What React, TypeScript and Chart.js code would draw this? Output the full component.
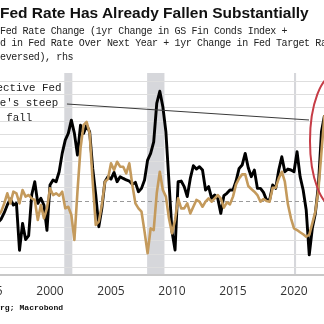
import React, { useEffect, useRef } from "react";
import { Chart, registerables } from "chart.js";

Chart.register(...registerables);

// ---- data (quarterly samples) ----
const START_YEAR = 1995.75;
const STEP_YEARS = 0.25;

const fedRateBlack = [
  -1.6,
  -1.35, -0.88, -0.3, 0.15, -0.3, -0.18, -3.7, -1.68, -2.9, -2.6, 0.45, 1.45, -0.18, 0.2, -0.3, -2.2, 1.2, 1.58,
  1.45, 2.2, 3.58, 4.58, 5.08, 6.08, 5.08, 3.45, 5.7, 5.08, 5.7, 5.2, 2.45, 0.45, -1.93, -0.55, 1.45, 1.83,
  1.65, 2.15, 1.45, 1.83, 1.7, 1.58, 1.5, 1.25, 1.4, 0.7, 0.95, 1.58, 3.08, 3.58, 4.45, 7.33, 8.25, 7.08,
  5.2, 1.45, -2.3, -3.68, 1.45, 1.5, 1.08, 0.33, 1.7, 2.65, 2.4, 2.58, 2.33, 0.83, 1.08, 0.2, 0.45, 0.2,
  -0.93, 0.4, 0.58, 0.83, 0.83, 1.5, 2.45, 2.7, 3.58, 2.5, 1.83, 2.33, 0.95, 0.95, 0.65, 0.08, 0.08, 1.2,
  0.95, 2.33, 3.33, 2.2, 2.4, 2.33, 2.2, 3.7, 1.83, 0.83, -0.68, -4.05, -2.05, -0.93, 1.2, 5.2, 6.45,
];

const fedRateTan = [
  -1.1,
  -0.8, -0.18, 0.58, -0.18, 0.7, 0.58, -0.18, 0.83, 0.33, 0.45, 0.2, 0.08, -1.43, -0.3, -1.3, -0.55, 0.95, 0.45,
  0.58, 0.4, 0.7, -0.55, -0.43, -1.05, -2.93, 0.7, 3.95, 5.7, 5.95, 5.08, 1.45, -1.8, -1.55, -0.3, 1.45, 1.65,
  2.83, 2.33, 2.95, 2.58, 2.58, 2.08, 2.83, 1.2, -0.18, -0.55, -0.8, -2.3, -3.93, -2.05, -2.18, 0.58, 2.2, 0.83,
  0.33, -1.3, -2.43, -1.43, 0.2, -0.55, -0.55, -0.18, -0.93, -0.43, 0.08, -0.05, -0.43, -0.05, 0.2, -0.05, 0.2, 0.45,
  0.2, -0.5, -0.1, -0.25, 0.33, 1.25, 1.7, 2.0, 2.0, 1.13, 0.9, 0.7, 0.45, -0.05, 0.15, 0.0, -0.05, 1.0,
  1.0, 1.7, 2.2, 1.45, -0.25, -1.3, -2.05, -2.18, -2.35, -2.5, -2.68, -2.55, -1.68, -0.8, 0.83, 3.7, 6.45,
];

const xTickYears = [1995, 2000, 2005, 2010, 2015, 2020, 2025];
const yGridValues = [-5, -4, -3, -2, -1, 0, 1, 2, 3, 4, 5, 6, 7, 8, 9];
const recessionStarts = [2001.17, 2007.96, 2020.0];
const recessionEnds = [2001.83, 2009.38, 2020.17];

const X_MIN = 1991.967;
const X_MAX = 2026.393;
const Y_MIN = -5.56;
const Y_MAX = 9.62;

// ---- text ----
const TITLE = "Fed Rate Has Already Fallen Substantially";
const SUB1 = "Fed Rate Change (1yr Change in GS Fin Conds Index +";
const SUB2 = "d in Fed Rate Over Next Year + 1yr Change in Fed Target Rate";
const SUB3 = "eversed), rhs";
const SOURCE = "rg; Macrobond";
const NOTE_LINES = ["Effective Fed", "Rate's steep", "fall"];

// annotation anchors (data units)
const NOTE_X = 1997.48;
const NOTE_YS = [8.45, 7.35, 6.2];
const ARROW_FROM = [2001.39, 7.29];
const ARROW_TO = [2021.23, 6.09];
const ELLIPSE_CENTER = [2023.36, 4.51];
const ELLIPSE_RADII = [2.05, 4.96];

const overlayPlugin = {
  id: "overlay",
  beforeDraw(chart: any) {
    const { ctx, chartArea: a, scales } = chart;
    const x = scales.x;
    ctx.save();
    ctx.fillStyle = "#d6d7db";
    recessionStarts.forEach((s, i) => {
      const x0 = x.getPixelForValue(s);
      const x1 = x.getPixelForValue(recessionEnds[i]);
      ctx.fillRect(x0, a.top, Math.max(1.5, x1 - x0), a.bottom - a.top);
    });
    ctx.restore();
  },
  beforeDatasetsDraw(chart: any) {
    const { ctx, chartArea: a, scales } = chart;
    const y = scales.y;
    ctx.save();
    ctx.strokeStyle = "#9a9a9a";
    ctx.lineWidth = 1;
    ctx.setLineDash([4, 3]);
    const y0 = Math.round(y.getPixelForValue(0)) + 0.5;
    ctx.beginPath();
    ctx.moveTo(a.left, y0);
    ctx.lineTo(a.right, y0);
    ctx.stroke();
    ctx.restore();
  },
  afterDatasetsDraw(chart: any) {
    const { ctx, scales } = chart;
    const x = scales.x;
    const y = scales.y;
    ctx.save();
    ctx.strokeStyle = "#3a3a3a";
    ctx.lineWidth = 1;
    ctx.beginPath();
    ctx.moveTo(x.getPixelForValue(ARROW_FROM[0]), y.getPixelForValue(ARROW_FROM[1]));
    ctx.lineTo(x.getPixelForValue(ARROW_TO[0]), y.getPixelForValue(ARROW_TO[1]));
    ctx.stroke();
    const cx = x.getPixelForValue(ELLIPSE_CENTER[0]);
    const cy = y.getPixelForValue(ELLIPSE_CENTER[1]);
    const rx = Math.abs(x.getPixelForValue(ELLIPSE_CENTER[0] + ELLIPSE_RADII[0]) - cx);
    const ry = Math.abs(y.getPixelForValue(ELLIPSE_CENTER[1] + ELLIPSE_RADII[1]) - cy);
    ctx.strokeStyle = "#c63c46";
    ctx.lineWidth = 2;
    ctx.beginPath();
    ctx.ellipse(cx, cy, rx, ry, 0, 0, Math.PI * 2);
    ctx.stroke();
    ctx.fillStyle = "#222";
    ctx.font = '10.8px "Liberation Mono", monospace';
    ctx.textAlign = "center";
    ctx.textBaseline = "middle";
    NOTE_LINES.forEach((t, i) => {
      ctx.fillText(t, x.getPixelForValue(NOTE_X), y.getPixelForValue(NOTE_YS[i]));
    });
    ctx.restore();
  },
};

export default function App() {
  const ref = useRef<HTMLCanvasElement>(null);

  useEffect(() => {
    const canvas = ref.current;
    if (!canvas) return;
    const xs = fedRateBlack.map((_, i) => START_YEAR + STEP_YEARS * i);
    const chart = new Chart(canvas, {
      type: "line",
      data: {
        datasets: [
          {
            label: "Tan",
            data: fedRateTan.map((v, i) => ({ x: xs[i], y: v })),
            borderColor: "#c49a5c",
            borderWidth: 2.6,
            pointRadius: 0,
            tension: 0,
            borderJoinStyle: "round",
          },
          {
            label: "Black",
            data: fedRateBlack.map((v, i) => ({ x: xs[i], y: v })),
            borderColor: "#000000",
            borderWidth: 2.9,
            pointRadius: 0,
            tension: 0,
            borderJoinStyle: "round",
          },
        ],
      },
      options: {
        animation: false,
        responsive: false,
        devicePixelRatio: 1,
        layout: { padding: { top: 73, left: 0, right: 0, bottom: 0 } },
        plugins: { legend: { display: false }, tooltip: { enabled: false }, title: { display: false } },
        scales: {
          x: {
            type: "linear",
            min: X_MIN,
            max: X_MAX,
            grid: { display: false, drawTicks: false },
            border: { display: true, color: "#c8c8c8", width: 2 },
            ticks: {
              autoSkip: false,
              maxRotation: 0,
              padding: 9,
              color: "#333",
              font: { family: '"Open Sans", sans-serif', size: 12 },
              callback: (v: any) => String(v),
            },
            afterBuildTicks: (s: any) => {
              s.ticks = xTickYears.map((v) => ({ value: v }));
            },
            afterFit: (s: any) => {
              s.height = 49;
              s.paddingLeft = 0;
              s.paddingRight = 0;
            },
          },
          y: {
            type: "linear",
            min: Y_MIN,
            max: Y_MAX,
            ticks: { display: false },
            border: { display: false },
            grid: {
              drawTicks: false,
              lineWidth: 1,
              color: (c: any) => (c.tick && c.tick.value === 0 ? "rgba(0,0,0,0)" : "#dedede"),
            },
            afterBuildTicks: (s: any) => {
              s.ticks = yGridValues.map((v) => ({ value: v }));
            },
            afterFit: (s: any) => {
              s.width = 0;
            },
          },
        },
      },
      plugins: [overlayPlugin],
    } as any);
    return () => chart.destroy();
  }, []);

  const mono = '"Liberation Mono", monospace';
  const textBase: React.CSSProperties = { position: "absolute", left: 0, whiteSpace: "nowrap", margin: 0 };

  return (
    <div style={{ position: "fixed", left: 0, top: 0, width: 324, height: 324, overflow: "hidden", background: "#fff" }}>
      <canvas ref={ref} width={420} height={324} style={{ position: "absolute", left: -48, top: 0, width: 420, height: 324 }} />
      <div style={{ ...textBase, top: 5, font: 'bold 15.5px/15.5px "Liberation Sans", Arial, sans-serif', color: "#111" }}>{TITLE}</div>
      <div style={{ ...textBase, top: 26.8, font: `10px/10px ${mono}`, letterSpacing: "-0.37px", color: "#222" }}>{SUB1}</div>
      <div style={{ ...textBase, top: 38.8, font: `10px/10px ${mono}`, letterSpacing: "-0.37px", color: "#222" }}>{SUB2}</div>
      <div style={{ ...textBase, top: 53.3, font: `10px/10px ${mono}`, letterSpacing: "-0.37px", color: "#222" }}>{SUB3}</div>
      <div style={{ ...textBase, top: 303.8, font: `bold 8.1px/8.1px ${mono}`, color: "#111" }}>{SOURCE}</div>
    </div>
  );
}
